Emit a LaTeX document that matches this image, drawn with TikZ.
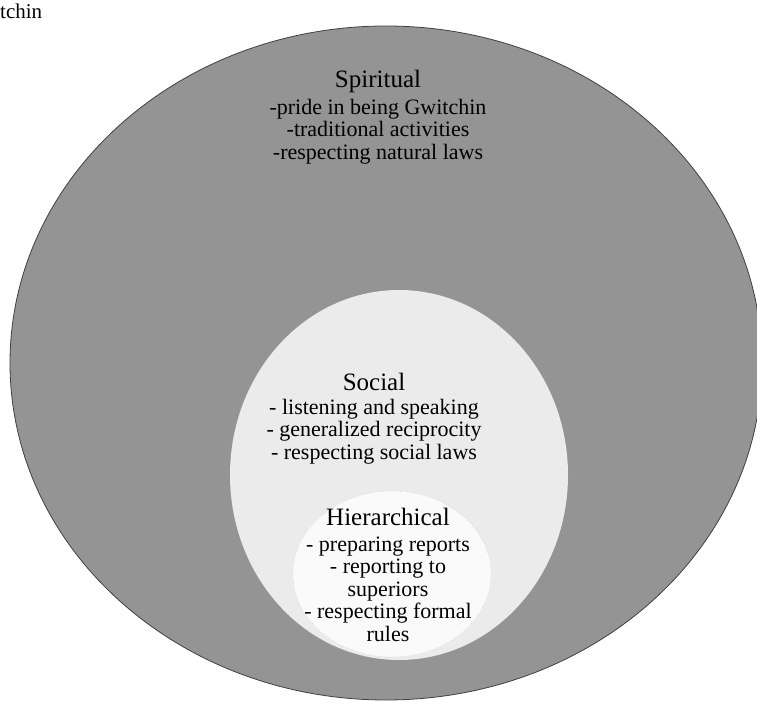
\documentclass[tikz,border=0pt]{standalone}
\usepackage{fontspec}
\setmainfont{Liberation Serif}
\usetikzlibrary{shapes.geometric}

\begin{document}
\begin{tikzpicture}[x=1pt,
y=1pt,
every node/.style={
align = center,
anchor=center,
inner sep=0pt,
},
ring/.style={
ellipse,
},
body/.style={
font=\fontsize{22}{22.5}\selectfont,
}]
\useasboundingbox (0,0) rectangle (757,704);

%caption at the page edge
\node[anchor=base west,font=\fontsize{21}{21}\selectfont] (caption) at (0,685) {tchin};

%Spiritual ring
\node[ring,draw=black!75,line width=0.8pt,fill=black!42,minimum width=752,minimum height=674] (spiritual) at (386,341) {};
%Social circle
\node[ring,fill=black!8,minimum width=338,minimum height=370] (social) at (399,229) {};
%Hierarchical circle
\node[ring,draw=black!30,dotted,fill=black!2,minimum width=198,minimum height=166] (hierarchical) at (392,130) {};

\node[body,anchor=north] (spiritualtext) at (378,634) {{\fontsize{25}{25}\selectfont Spiritual}\\[4pt]-pride in being Gwitchin\\-traditional activities\\-respecting natural laws};
\node[body,anchor=north] (socialtext) at (374,331) {{\fontsize{25}{25}\selectfont Social}\\[1pt]- listening and speaking\\- generalized reciprocity\\- respecting social laws};
\node[body,anchor=north] (hierarchicaltext) at (388,196) {{\fontsize{25}{25}\selectfont Hierarchical}\\[3pt]- preparing reports\\- reporting to\\superiors\\- respecting formal\\rules};
\end{tikzpicture}
\end{document}
